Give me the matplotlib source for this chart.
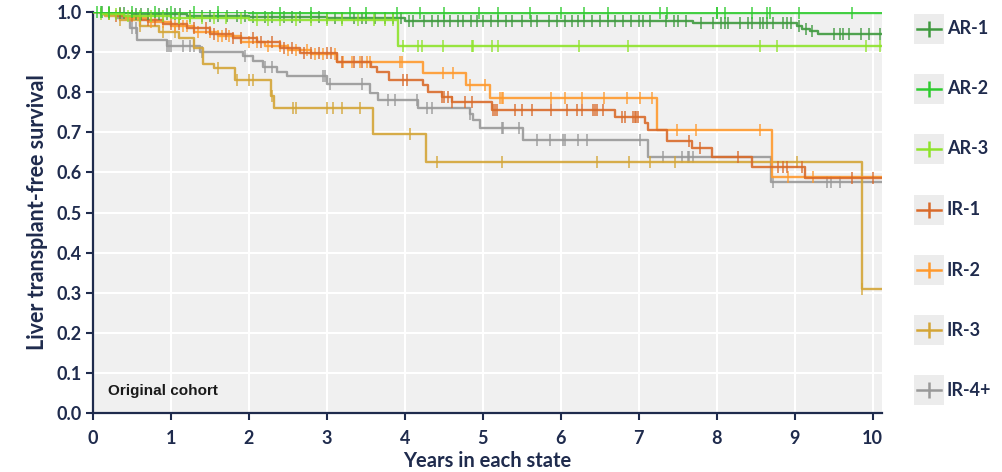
import numpy as np
import matplotlib
matplotlib.use("Agg")
import matplotlib.pyplot as plt
from matplotlib.patches import Rectangle
from matplotlib.lines import Line2D

NAVY = "#1f2b4d"
X_END = 10.12

labels = ["AR-1", "AR-2", "AR-3", "IR-1", "IR-2", "IR-3", "IR-4+"]
colors = ["#3f9a3f", "#2fcb2f", "#8ee32b", "#d96b2b", "#ff9a2e", "#d4a537", "#999999"]

# Kaplan-Meier step curves: event times and survival after each event
ar1_t = [0.15, 0.5, 1.2, 2.0, 3.0, 4.0, 7.7, 9.03, 9.1, 9.2, 9.3]
ar1_s = [0.997, 0.994, 0.991, 0.988, 0.984, 0.978, 0.972, 0.965, 0.958, 0.952, 0.945]
ar2_t = [0.3, 2.0, 5.0]
ar2_s = [0.999, 0.998, 0.997]
ar3_t = [0.1, 0.4, 1.0, 2.0, 3.91]
ar3_s = [0.995, 0.99, 0.985, 0.98, 0.915]
ir1_t = [0.1, 0.3, 0.6, 0.9, 1.2, 1.5, 1.8, 2.1, 2.4, 2.65, 3.13, 3.57, 3.64, 3.8,
         4.23, 4.3, 4.47, 4.6, 5.12, 6.69, 7.08, 7.12, 7.36, 7.68, 7.94, 8.45, 9.13]
ir1_s = [0.995, 0.99, 0.98, 0.97, 0.96, 0.945, 0.935, 0.925, 0.91, 0.897, 0.875, 0.863,
         0.85, 0.83, 0.818, 0.8, 0.788, 0.775, 0.755, 0.738, 0.723, 0.705, 0.678, 0.661,
         0.638, 0.613, 0.586]
ir2_t = [0.15, 0.4, 0.7, 1.0, 1.3, 1.6, 1.9, 2.2, 2.5, 2.8, 3.13, 4.23, 4.79, 5.09, 7.24, 8.71]
ir2_s = [0.995, 0.985, 0.975, 0.965, 0.95, 0.94, 0.925, 0.915, 0.905, 0.895, 0.875,
         0.848, 0.818, 0.785, 0.705, 0.589]
ir3_t = [0.15, 0.35, 0.6, 0.85, 1.1, 1.3, 1.41, 1.55, 1.82, 2.28, 2.32, 3.59, 4.27, 9.86]
ir3_s = [0.99, 0.98, 0.965, 0.95, 0.935, 0.91, 0.87, 0.86, 0.83, 0.79, 0.76, 0.695, 0.625, 0.31]
ir4_t = [0.1, 0.3, 0.47, 0.56, 0.95, 1.37, 1.93, 2.05, 2.18, 2.36, 2.49, 3.0, 3.55, 3.66,
         4.17, 4.83, 4.87, 4.96, 5.51, 7.12, 8.7]
ir4_s = [0.995, 0.985, 0.96, 0.93, 0.915, 0.9, 0.89, 0.878, 0.863, 0.85, 0.84, 0.82,
         0.798, 0.78, 0.76, 0.745, 0.73, 0.71, 0.68, 0.638, 0.576]

# censoring times
ar1_c = [0.12, 0.2, 0.35, 0.4, 0.55, 0.62, 0.7, 0.85, 0.95, 1.05, 1.12, 1.25, 1.4, 1.5, 1.6,
         1.72, 1.85, 1.95, 2.05, 2.2, 2.3, 2.45, 2.55, 2.65, 2.8, 2.9, 3.0, 3.1, 3.2, 3.35,
         3.45, 3.5, 3.62, 3.75, 3.85, 3.95, 4.05, 4.1, 4.25, 4.35, 4.42, 4.5, 4.58, 4.68,
         4.75, 4.85, 4.92, 5.0, 5.1, 5.2, 5.3, 5.38, 5.5, 5.62, 5.7, 5.85, 5.95, 6.05, 6.15,
         6.22, 6.3, 6.4, 6.5, 6.6, 6.7, 6.8, 6.9, 7.0, 7.05, 7.15, 7.35, 7.45, 7.5, 7.6,
         7.8, 7.95, 8.05, 8.1, 8.15, 8.3, 8.4, 8.45, 8.55, 8.6, 8.65, 8.72, 8.85, 8.9, 8.95,
         9.05, 9.15, 9.22, 9.5, 9.58, 9.62, 9.7, 9.85, 9.95, 10.1]
ar2_c = [0.05, 0.1, 0.2, 0.5, 0.8, 1.0, 1.3, 1.6, 2.4, 2.8, 3.3, 3.5, 3.9, 4.2, 4.5, 4.95,
         5.2, 5.6, 6.0, 6.3, 6.6, 7.27, 7.36, 8.0, 8.01, 8.1, 8.45, 8.65, 8.68, 9.06, 9.73]
ar3_c = [0.1, 0.2, 0.3, 0.45, 0.6, 0.75, 0.9, 1.1, 1.25, 1.4, 1.55, 1.7, 1.9, 2.1, 2.25,
         2.4, 2.6, 2.8, 3.0, 3.2, 3.4, 3.6, 3.75, 3.85, 3.97, 4.17, 4.22, 4.49, 4.86, 4.87,
         5.12, 5.19, 6.24, 6.86, 8.55, 8.77, 9.92, 10.09]
ir1_c = [0.3, 0.5, 0.7, 0.8, 1.0, 1.1, 1.3, 1.45, 1.55, 1.7, 1.8, 1.9, 2.05, 2.15, 2.3,
         2.45, 2.55, 2.7, 2.8, 2.9, 3.0, 3.05, 3.2, 3.35, 3.45, 3.97, 4.03, 4.47, 4.5, 4.55,
         4.6, 4.77, 4.86, 5.13, 5.15, 5.18, 5.41, 5.5, 5.63, 5.88, 6.08, 6.21, 6.27, 6.41,
         6.44, 6.46, 6.54, 6.78, 6.82, 6.92, 6.95, 6.97, 6.99, 7.65, 7.78, 8.27, 8.78, 8.85,
         8.9, 9.09, 9.73, 10.0]
ir2_c = [0.2, 0.35, 0.6, 0.75, 0.9, 1.05, 1.15, 1.2, 1.35, 1.5, 1.6, 1.65, 1.75, 2.0, 2.1,
         2.25, 2.4, 2.5, 2.6, 2.75, 2.85, 2.95, 3.1, 3.21, 3.32, 3.42, 3.51, 3.55, 3.94, 3.96,
         4.49, 4.62, 4.83, 5.03, 5.22, 5.24, 5.26, 5.88, 6.05, 6.27, 6.56, 6.85, 7.01, 7.17,
         7.49, 7.74, 8.55, 8.91, 9.23]
ir3_c = [0.35, 0.6, 0.9, 1.05, 1.6, 1.85, 2.0, 2.05, 2.3, 2.57, 2.6, 3.0, 3.08, 3.2, 3.42,
         4.06, 4.41, 5.24, 6.47, 6.88, 7.14, 7.46, 9.03, 9.86]
ir4_c = [0.2, 0.5, 0.55, 0.95, 0.97, 1.0, 1.15, 1.25, 1.3, 1.4, 1.95, 2.2, 2.3, 2.95, 2.97,
         3.04, 3.45, 3.78, 3.87, 4.15, 4.28, 4.35, 4.83, 5.24, 5.26, 5.47, 5.7, 5.86, 6.03,
         6.05, 6.22, 6.33, 7.01, 7.31, 7.55, 7.63, 7.65, 7.69, 8.72, 9.41, 9.47, 9.58]

curves = [(ar1_t, ar1_s, ar1_c), (ar2_t, ar2_s, ar2_c), (ar3_t, ar3_s, ar3_c),
          (ir1_t, ir1_s, ir1_c), (ir2_t, ir2_s, ir2_c), (ir3_t, ir3_s, ir3_c),
          (ir4_t, ir4_s, ir4_c)]

plt.rcParams["font.family"] = ["Lato", "DejaVu Sans"]

fig = plt.figure(figsize=(10.03, 4.72), dpi=100)
ax = fig.add_axes([93 / 1003, 59 / 472, 789 / 1003, 401 / 472])
ax.set_facecolor("#f0f0f0")
ax.grid(True, color="white", linewidth=1.5)
ax.set_axisbelow(True)

# draw IR curves first so the AR curves sit on top
order = [6, 5, 4, 3, 0, 2, 1]
for i in order:
    t, s, c = curves[i]
    x = [0] + t + [X_END]
    y = [1.0] + s + [s[-1]]
    ax.step(x, y, where="post", color=colors[i], lw=1.7, alpha=0.9, zorder=3)
    idx = np.searchsorted(t, c, side="right") - 1
    cy = np.where(idx < 0, 1.0, np.array(s)[np.clip(idx, 0, None)])
    ax.plot(c, cy, ls="none", marker="|", ms=8, mew=1.1, color=colors[i],
            alpha=0.9, zorder=3, clip_on=False)

ax.set_xlim(0, X_END)
ax.set_ylim(0, 1.0)
ax.set_xticks(range(0, 11))
ax.set_yticks(np.round(np.arange(0, 1.01, 0.1), 1))
ax.set_yticklabels([f"{v:.1f}" for v in np.arange(0, 1.01, 0.1)])
for sp in ["top", "right"]:
    ax.spines[sp].set_visible(False)
for sp in ["left", "bottom"]:
    ax.spines[sp].set_color(NAVY)
    ax.spines[sp].set_linewidth(1.6)
ax.tick_params(axis="both", colors=NAVY, length=5, width=1.5, labelsize=13)
ax.tick_params(axis="x", pad=7)
ax.tick_params(axis="y", pad=3)
for lab in ax.get_xticklabels() + ax.get_yticklabels():
    lab.set_fontweight("bold")

ax.set_xlabel("Years in each state", fontsize=14.5, fontweight="bold", color=NAVY, labelpad=3)
ax.set_ylabel("Liver transplant-free survival", fontsize=15.5, fontweight="bold",
              color=NAVY, labelpad=6)
ax.text(0.19, 0.055, "Original cohort", fontsize=11, fontweight="bold",
        color="#1a1a1a", family=["Liberation Sans", "DejaVu Sans"], va="center")

# legend on the right, entries with grey handle boxes
leg_y = [29, 89, 149, 210, 270, 330, 390]
W, H = 1003, 472
for lab, col, py in zip(labels, colors, leg_y):
    fig.add_artist(Rectangle((914 / W, 1 - (py + 15) / H), 30 / W, 30 / H,
                             transform=fig.transFigure, color="#ececec", lw=0))
    fig.add_artist(Line2D([917 / W, 941 / W], [1 - py / H, 1 - py / H],
                          transform=fig.transFigure, color=col, lw=1.8))
    fig.add_artist(Line2D([929 / W], [1 - py / H], transform=fig.transFigure,
                          marker="|", ms=11, mew=1.8, color=col))
    fig.text(947 / W, 1 - py / H, lab, fontsize=13, fontweight="bold", color=NAVY,
             va="center", ha="left")

fig.savefig("out.png", dpi=100)
